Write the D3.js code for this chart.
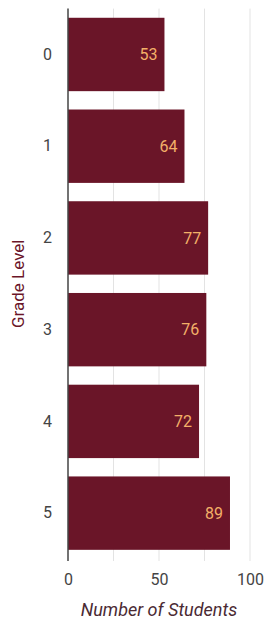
<!DOCTYPE html>
<html>
<head>
<meta charset="utf-8">
<script src="https://cdn.jsdelivr.net/npm/d3@7"></script>
<style>
  body { margin: 0; background: #fff; }
  svg { display: block; font-family: Roboto, sans-serif; }
</style>
</head>
<body>
<script>
// grade levels and how many students in each
var grades = ["0", "1", "2", "3", "4", "5"];
var students = [53, 64, 77, 76, 72, 89];
var xTicks = [0, 50, 100];
var gridTicks = [25, 50, 75, 100];

var W = 270, H = 623;
var plotL = 68, plotR = 250, plotT = 8.6, plotB = 559;

var svg = d3.select("body").append("svg")
  .attr("width", W)
  .attr("height", H);

var x = d3.scaleLinear().domain([0, 100]).range([plotL, plotR]);
var y = d3.scaleBand().domain(grades).range([plotT, plotB])
  .paddingInner(0.2).paddingOuter(0.1);

// grid
svg.append("g").selectAll("line")
  .data(gridTicks)
  .enter().append("line")
  .attr("x1", function(d){ return x(d); })
  .attr("x2", function(d){ return x(d); })
  .attr("y1", plotT)
  .attr("y2", plotB + 2)
  .attr("stroke", "#e3e3e3")
  .attr("stroke-width", 1);

// bars
svg.append("g").selectAll("rect")
  .data(grades)
  .enter().append("rect")
  .attr("x", x(0))
  .attr("y", function(d){ return y(d); })
  .attr("width", function(d, i){ return x(students[i]) - x(0); })
  .attr("height", y.bandwidth())
  .attr("fill", "#6a1528");

// value labels
svg.append("g").selectAll("text")
  .data(grades)
  .enter().append("text")
  .attr("x", function(d, i){ return x(students[i]) - 7; })
  .attr("y", function(d){ return y(d) + y.bandwidth() / 2; })
  .attr("dy", "0.35em")
  .attr("text-anchor", "end")
  .attr("fill", "#f3b068")
  .attr("font-size", 16)
  .text(function(d, i){ return students[i]; });

// axis line
svg.append("line")
  .attr("x1", x(0)).attr("x2", x(0))
  .attr("y1", plotT).attr("y2", plotB + 2)
  .attr("stroke", "#444")
  .attr("stroke-width", 1.5);

// y tick labels
var yAxis = d3.axisLeft(y).tickSize(0).tickPadding(16);
var gy = svg.append("g").attr("transform", "translate(" + plotL + ",0)").call(yAxis);
gy.select(".domain").remove();
gy.selectAll("text").attr("font-size", 16).attr("fill", "#444").attr("font-family", "Roboto, sans-serif");

// x tick labels
var xAxis = d3.axisBottom(x).tickValues(xTicks).tickSize(0).tickPadding(15);
var gx = svg.append("g").attr("transform", "translate(0," + plotB + ")").call(xAxis);
gx.select(".domain").remove();
gx.selectAll("text").attr("font-size", 16).attr("fill", "#444").attr("font-family", "Roboto, sans-serif");

// axis titles
svg.append("text")
  .attr("transform", "translate(24," + ((plotT + plotB) / 2) + ") rotate(-90)")
  .attr("text-anchor", "middle")
  .attr("font-size", 17)
  .attr("fill", "#6a1528")
  .text("Grade Level");

svg.append("text")
  .attr("x", (plotL + plotR) / 2)
  .attr("y", 616)
  .attr("text-anchor", "middle")
  .attr("font-size", 18)
  .attr("font-style", "italic")
  .attr("fill", "#4a2a33")
  .text("Number of Students");
</script>
</body>
</html>
